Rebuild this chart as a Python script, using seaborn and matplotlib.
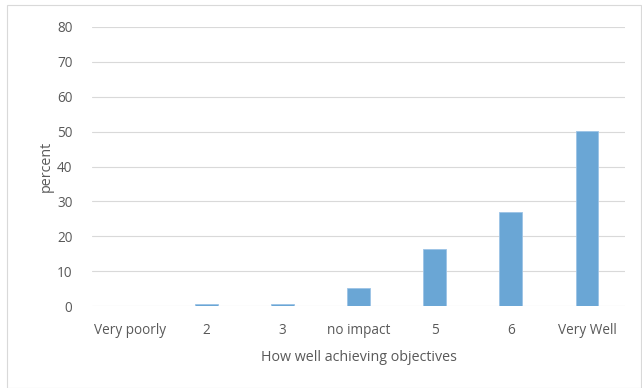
import matplotlib
matplotlib.use("Agg")
import matplotlib.pyplot as plt
import seaborn as sns
import pandas as pd
from matplotlib.patches import Rectangle

categories = ["Very poorly", "2", "3", "no impact", "5", "6", "Very Well"]
percent = [0, 0.5, 0.5, 5.2, 16.3, 27.0, 50.3]
yticks = [0, 10, 20, 30, 40, 50, 60, 70, 80]

sns.set_theme(style="white")
plt.rcParams['font.family'] = ['Open Sans', 'DejaVu Sans']

df = pd.DataFrame({"cat": categories, "percent": percent})

fig = plt.figure(figsize=(6.42, 3.88), dpi=100)
ax = fig.add_axes([92/642, 82/388, 533/642, 279/388])
sns.barplot(data=df, x="cat", y="percent", color="#6aa6d5", width=0.3,
            saturation=1, ax=ax, edgecolor="#9cc3e6", linewidth=0.6)
ax.set_ylim(0, 80)
ax.set_yticks(yticks)
ax.set_xlim(-0.5, 6.5)
for y in yticks:
    ax.axhline(y, color="#d9d9d9", lw=0.8, zorder=0)
for s in ax.spines.values():
    s.set_visible(False)
ax.tick_params(axis="both", length=0, colors="#595959", labelsize=9.8)
ax.tick_params(axis="x", pad=12)
ax.tick_params(axis="y", pad=14)
ax.set_xlabel("How well achieving objectives", color="#595959", fontsize=10.3, labelpad=9)
ax.set_ylabel("percent", color="#595959", fontsize=10.3, labelpad=2)
fig.patches.append(Rectangle((7/642, 0), 1 - 8/642, 1 - 5/388, transform=fig.transFigure,
                             fill=False, edgecolor="#d9d9d9", lw=0.8))
fig.savefig("out.png", dpi=100)
